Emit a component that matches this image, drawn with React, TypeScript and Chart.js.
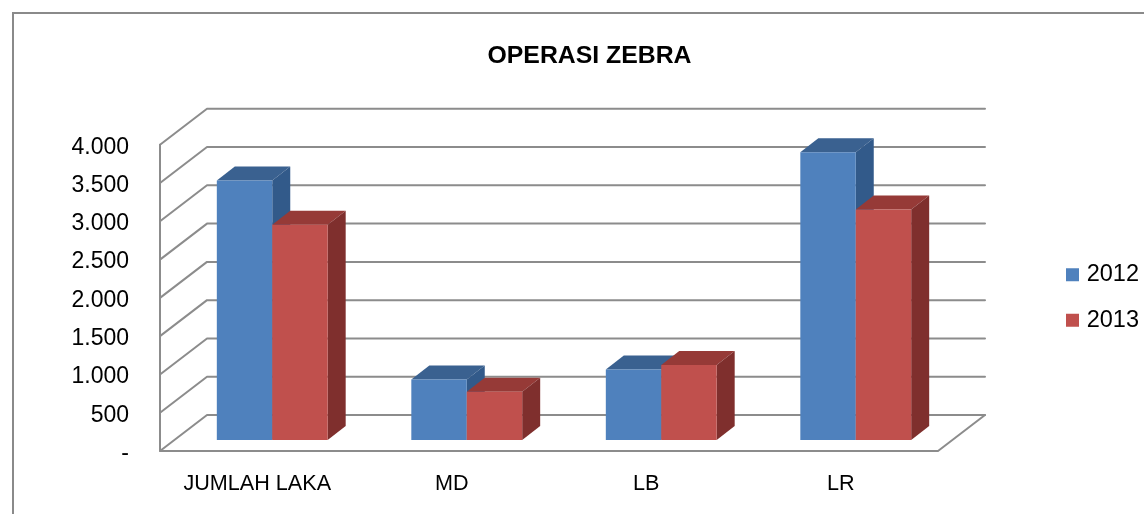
import React, { useEffect, useRef } from "react";
import { Chart, registerables } from "chart.js";

Chart.register(...registerables);

const categories = ["JUMLAH LAKA", "MD", "LB", "LR"];
const values2012 = [3390, 790, 920, 3760];
const values2013 = [2810, 630, 980, 3010];
const yTicks: Record<number, string> = {
  0: "-", 500: "500", 1000: "1.000", 1500: "1.500", 2000: "2.000",
  2500: "2.500", 3000: "3.000", 3500: "3.500", 4000: "4.000",
};

const FONT = "'Liberation Sans', Arial, sans-serif";
const GRID = "#8c8c8c";
const WALL = { dx: 47, dy: -36 };
const BAR_SHIFT = { dx: 15, dy: -11 };
const BAR_DEPTH = { dx: 18, dy: -14 };
const FACES = [
  { top: "#3A6190", side: "#325A8A" },
  { top: "#963A37", side: "#7F2F2D" },
];

function face(ctx: CanvasRenderingContext2D, pts: number[][], fill: string) {
  ctx.beginPath();
  pts.forEach(([x, y], i) => (i ? ctx.lineTo(x, y) : ctx.moveTo(x, y)));
  ctx.closePath();
  ctx.fillStyle = fill;
  ctx.fill();
}

const depth3d = {
  id: "depth3d",
  beforeInit(chart: any) {
    const lg = chart.legend;
    const fit = lg.fit;
    lg.fit = function () {
      fit.call(this);
      this.width = 206;
    };
  },
  afterLayout(chart: any) {
    const lg = chart.legend;
    const pad = lg.options.labels.padding;
    lg.left = 1066 - pad;
    lg.right = 1139;
    lg.top = 180;
    lg.bottom = 415;
  },
  beforeDraw(chart: any) {
    const { ctx, width, height } = chart;
    ctx.save();
    ctx.fillStyle = "#fff";
    ctx.fillRect(0, 0, width, height);
    ctx.strokeStyle = "#8a8a8a";
    ctx.lineWidth = 2;
    ctx.beginPath();
    ctx.moveTo(13, 514);
    ctx.lineTo(13, 13);
    ctx.lineTo(width, 13);
    ctx.stroke();
    ctx.restore();
  },
  beforeDatasetsDraw(chart: any) {
    const { ctx, chartArea, scales } = chart;
    const { left, right } = chartArea;
    const y = scales.y;
    ctx.save();
    ctx.strokeStyle = GRID;
    ctx.lineWidth = 2;
    ctx.lineCap = "round";
    ctx.lineJoin = "round";
    Object.keys(yTicks).forEach((k) => {
      const py = y.getPixelForValue(Number(k));
      ctx.beginPath();
      ctx.moveTo(left, py);
      ctx.lineTo(left + WALL.dx, py + WALL.dy);
      ctx.lineTo(right + WALL.dx, py + WALL.dy);
      ctx.stroke();
    });
    const y0 = y.getPixelForValue(0);
    ctx.beginPath();
    ctx.moveTo(left, y.getPixelForValue(4000));
    ctx.lineTo(left, y0);
    ctx.lineTo(right, y0);
    ctx.lineTo(right + WALL.dx, y0 + WALL.dy);
    ctx.stroke();

    ctx.translate(BAR_SHIFT.dx, BAR_SHIFT.dy);
    chart.data.datasets.forEach((_: any, i: number) => {
      const meta = chart.getDatasetMeta(i);
      meta.data.forEach((bar: any) => {
        const l = bar.x - bar.width / 2;
        const r = bar.x + bar.width / 2;
        const { dx, dy } = BAR_DEPTH;
        face(ctx, [[l, bar.y], [l + dx, bar.y + dy], [r + dx, bar.y + dy], [r, bar.y]], FACES[i].top);
        face(ctx, [[r, bar.y], [r + dx, bar.y + dy], [r + dx, bar.base + dy], [r, bar.base]], FACES[i].side);
      });
      meta.controller.draw();
    });
    ctx.restore();
    return false;
  },
};

export default function App() {
  const ref = useRef<HTMLCanvasElement>(null);
  useEffect(() => {
    const chart = new Chart(ref.current!, {
      type: "bar",
      data: {
        labels: categories,
        datasets: [
          { label: "2012", data: values2012, backgroundColor: "#4F81BD", borderWidth: 0 },
          { label: "2013", data: values2013, backgroundColor: "#C0504D", borderWidth: 0 },
        ],
      },
      options: {
        responsive: false,
        animation: false,
        devicePixelRatio: 1,
        layout: { padding: { left: 35, right: 0, top: 0, bottom: 0 } },
        datasets: { bar: { categoryPercentage: 0.57, barPercentage: 1 } },
        plugins: {
          tooltip: { enabled: false },
          title: {
            display: true,
            text: "OPERASI ZEBRA",
            color: "#000",
            font: { family: FONT, size: 24.8, weight: "bold", lineHeight: 1.2 },
            padding: { top: 41, bottom: 74 },
          },
          legend: {
            position: "right",
            labels: {
              boxWidth: 13,
              boxHeight: 13,
              padding: 22,
              color: "#000",
              textAlign: "right",
              font: { family: FONT, size: 23.5 },
            },
          },
        },
        scales: {
          x: {
            grid: { display: false, drawTicks: false },
            border: { display: false },
            afterFit: (s: any) => { s.height = 64; },
            ticks: { color: "#000", padding: 20, maxRotation: 0, font: { family: FONT, size: 21.6 } },
          },
          y: {
            min: 0,
            max: 4000,
            grid: { display: false, drawTicks: false },
            border: { display: false },
            afterFit: (s: any) => { s.width = 125; },
            ticks: {
              stepSize: 500,
              color: "#000",
              padding: 31,
              labelOffset: 2.5,
              font: { family: FONT, size: 23 },
              callback: (v: any) => yTicks[Number(v)],
            },
          },
        },
      },
      plugins: [depth3d],
    } as any);
    return () => chart.destroy();
  }, []);
  return (
    <canvas
      ref={ref}
      width={1144}
      height={515}
      style={{ position: "absolute", left: 0, top: 0, width: 1144, height: 515 }}
    />
  );
}
